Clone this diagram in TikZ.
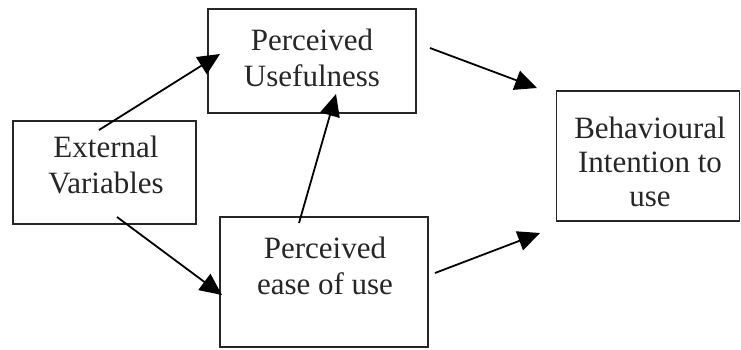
\documentclass[tikz,border=0pt]{standalone}
\usepackage{fontspec}
\setmainfont{Liberation Serif}
\usetikzlibrary{arrows.meta}
\begin{document}
\begin{tikzpicture}[x=1pt,y=-1pt,
  box/.style={draw,line width=1.6pt,rectangle,inner sep=0pt,draw=black!85},
  lbl/.style={align=center,font=\fontsize{31}{36}\selectfont,inner sep=0pt,text=black!85},
  arr/.style={line width=1.8pt,-{Triangle[length=22pt,width=20pt]}}]
\useasboundingbox (0,0) rectangle (741,349);
% boxes
\node[box,minimum width=183pt,minimum height=103pt] (ext) at (104.5,172.5) {};
\node[box,minimum width=208pt,minimum height=104pt] (pu) at (312,61) {};
\node[box,minimum width=208pt,minimum height=130pt] (peou) at (324,282) {};
\node[box,minimum width=183pt,minimum height=130pt] (bi) at (648,156) {};
% labels
\node[lbl] (extt) at (106,164.5) {External\\Variables};
\node[lbl] (put) at (312,57.5) {Perceived\\Usefulness};
\node[lbl] (peout) at (325,265.5) {Perceived\\ease of use};
\node[lbl,font=\fontsize{31}{34}\selectfont] (bit) at (650,162) {Behavioural\\Intention to\\use};
% connector end points
\coordinate (a1s) at (99,130);  \coordinate (a1e) at (220,54);
\coordinate (a2s) at (117,217); \coordinate (a2e) at (222,295);
\coordinate (a3s) at (299,223); \coordinate (a3e) at (336,94);
\coordinate (a4s) at (430,48);  \coordinate (a4e) at (537,88);
\coordinate (a5s) at (435,273); \coordinate (a5e) at (540,233);
% connectors
\draw[arr] (a1s) -- (a1e);
\draw[arr] (a2s) -- (a2e);
\draw[arr] (a3s) -- (a3e);
\draw[arr] (a4s) -- (a4e);
\draw[arr] (a5s) -- (a5e);
\end{tikzpicture}
\end{document}
